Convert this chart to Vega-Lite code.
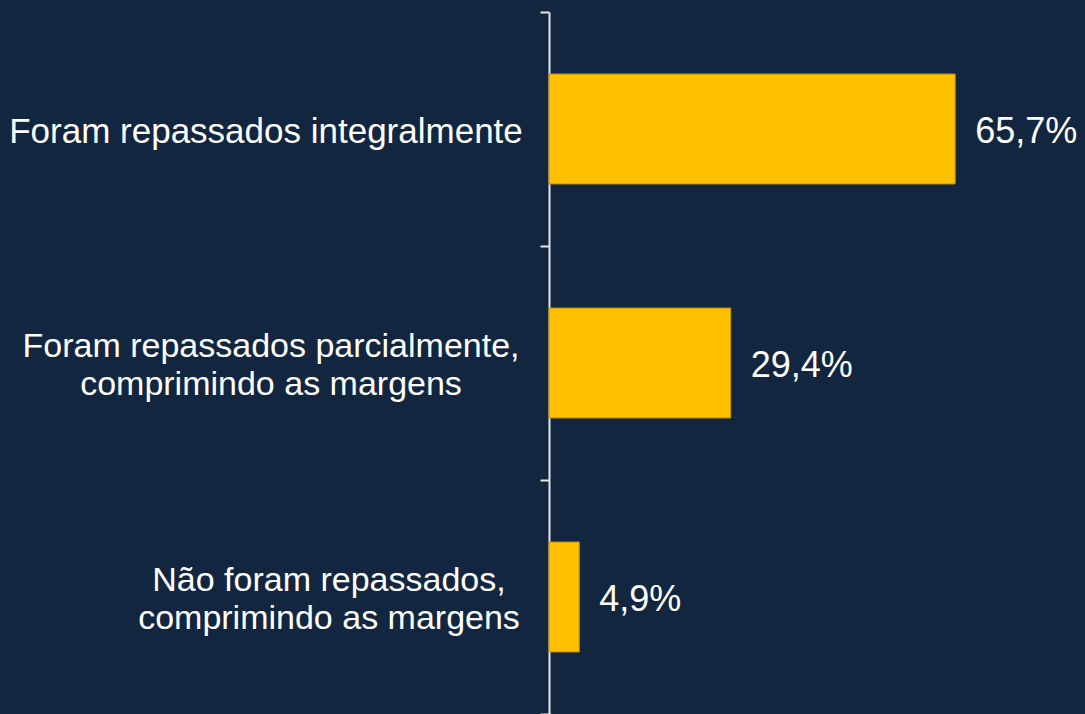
{
  "$schema": "https://vega.github.io/schema/vega-lite/v6.json",
  "autosize": {"type": "none"},
  "width": 536,
  "height": 702,
  "padding": {"left": 549, "top": 12, "right": 0, "bottom": 0},
  "background": "#12263F",
  "data": {
    "values": [
      {"categoria": "Foram  repassados integralmente", "valor": 65.7, "rotulo": "65,7%"},
      {"categoria": "Foram repassados parcialmente,|comprimindo as margens", "valor": 29.4, "rotulo": "29,4%"},
      {"categoria": "Não foram repassados,|comprimindo as margens", "valor": 4.9, "rotulo": "4,9%"}
    ]
  },
  "encoding": {
    "y": {
      "field": "categoria",
      "type": "nominal",
      "sort": null,
      "title": null,
      "scale": {"paddingInner": 0, "paddingOuter": 0},
      "axis": {
        "domainColor": "#E6E6E6",
        "domainWidth": 2,
        "tickColor": "#E6E6E6",
        "tickWidth": 2,
        "tickSize": 9,
        "tickBand": "extent",
        "labels": false,
        "grid": false
      }
    }
  },
  "layer": [
    {
      "mark": {"type": "bar", "color": "#FFC000", "stroke": "#B8900A", "strokeWidth": 1, "height": {"band": 0.47}},
      "encoding": {
        "x": {"field": "valor", "type": "quantitative", "scale": {"domain": [0, 86.7], "nice": false, "zero": true}, "axis": null}
      }
    },
    {
      "mark": {"type": "text", "align": "left", "baseline": "middle", "dx": 20, "dy": 3, "font": "Liberation Sans", "fontSize": 36, "color": "#FFFFFF"},
      "encoding": {
        "x": {"field": "valor", "type": "quantitative"},
        "text": {"field": "rotulo"}
      }
    },
    {
      "transform": [{"filter": "indexof(datum.categoria, 'integralmente') >= 0"}],
      "mark": {"type": "text", "align": "center", "baseline": "middle", "lineBreak": "|", "lineHeight": 38, "dx": -283, "dy": 3, "font": "Liberation Sans", "fontSize": 35, "color": "#FFFFFF"},
      "encoding": {
        "x": {"datum": 0, "type": "quantitative"},
        "text": {"field": "categoria"}
      }
    },
    {
      "transform": [{"filter": "indexof(datum.categoria, 'parcialmente') >= 0"}],
      "mark": {"type": "text", "align": "center", "baseline": "middle", "lineBreak": "|", "lineHeight": 38, "dx": -278, "dy": -16, "font": "Liberation Sans", "fontSize": 34, "color": "#FFFFFF"},
      "encoding": {
        "x": {"datum": 0, "type": "quantitative"},
        "text": {"field": "categoria"}
      }
    },
    {
      "transform": [{"filter": "indexof(datum.categoria, 'Não') >= 0"}],
      "mark": {"type": "text", "align": "center", "baseline": "middle", "lineBreak": "|", "lineHeight": 38, "dx": -220, "dy": -16, "font": "Liberation Sans", "fontSize": 34, "color": "#FFFFFF"},
      "encoding": {
        "x": {"datum": 0, "type": "quantitative"},
        "text": {"field": "categoria"}
      }
    }
  ],
  "config": {"view": {"stroke": null}}
}
